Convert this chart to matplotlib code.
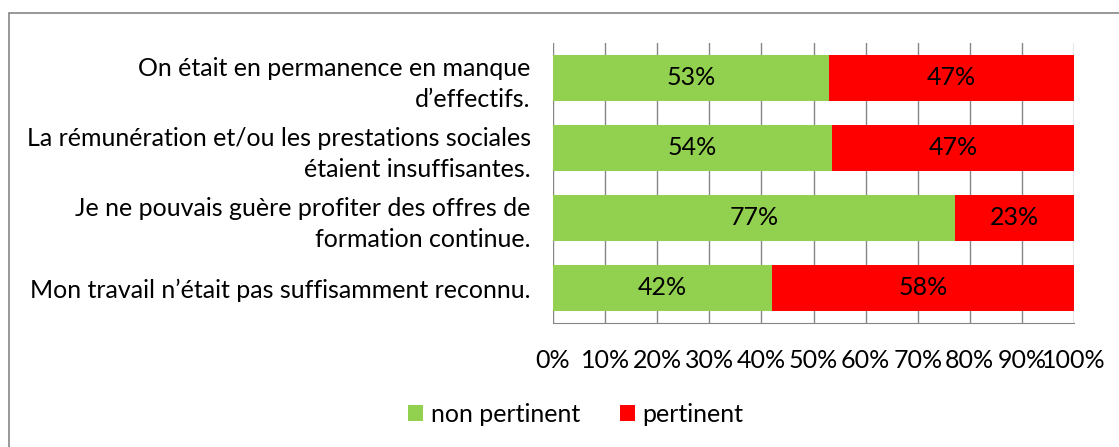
import matplotlib.pyplot as plt
from matplotlib.patches import Rectangle

plt.rcParams['font.family'] = ['Lato', 'DejaVu Sans']

categories = [
    "On était en permanence en manque\nd’effectifs.",
    "La rémunération et/ou les prestations sociales\nétaient insuffisantes.",
    "Je ne pouvais guère profiter des offres de\nformation continue.",
    "Mon travail n’était pas suffisamment reconnu.",
]
non_pertinent = [52.9, 53.5, 77.1, 42.1]
pertinent = [47.1, 46.5, 22.9, 57.9]
non_pertinent_labels = ["53%", "54%", "77%", "42%"]
pertinent_labels = ["47%", "47%", "23%", "58%"]
xticks = [0, 10, 20, 30, 40, 50, 60, 70, 80, 90, 100]

GREEN = '#92d050'
RED = '#ff0000'
W, H = 1119, 447
FS = 18

fig = plt.figure(figsize=(W / 100, H / 100), dpi=100)
# plot area in pixels: x 553..1074, y 42.7..323
ax = fig.add_axes([553 / W, 1 - 323 / H, (1074 - 553) / W, (323 - 42.7) / H])

y = list(range(len(categories)))[::-1]
ax.barh(y, non_pertinent, height=0.65, color=GREEN, zorder=3, label='non pertinent')
ax.barh(y, pertinent, left=non_pertinent, height=0.65, color=RED, zorder=3, label='pertinent')

for yi, a, b, la, lb in zip(y, non_pertinent, pertinent, non_pertinent_labels, pertinent_labels):
    ax.text(a / 2, yi, la, ha='center', va='center', fontsize=FS, zorder=4)
    ax.text(a + b / 2, yi, lb, ha='center', va='center', fontsize=FS, zorder=4)

ax.set_xlim(0, 100)
ax.set_ylim(-0.5, len(categories) - 0.5)
ax.set_xticks(xticks)
ax.set_xticklabels([f"{t}%" for t in xticks], fontsize=FS)
ax.set_yticks(y)
ax.set_yticklabels(categories, fontsize=FS, linespacing=1.45)
ax.tick_params(axis='y', length=0, pad=16)
ax.tick_params(axis='x', length=0, pad=19)
ax.grid(axis='x', color='#868686', linewidth=1, zorder=0)
for s in ['top', 'right', 'left']:
    ax.spines[s].set_visible(False)
ax.spines['bottom'].set_color('#868686')

ax.legend(loc='center', bbox_to_anchor=(576 / W, 1 - 414 / H), bbox_transform=fig.transFigure,
          ncol=2, frameon=False, fontsize=FS, handlelength=0.6, handleheight=0.6,
          handletextpad=0.3, columnspacing=1.6)

fig.patches.append(Rectangle((8.5 / W, -0.1), 1.2, 1 - 13 / H + 0.1, transform=fig.transFigure,
                             fill=False, edgecolor='#868686', linewidth=1.2))

fig.savefig('out.png', dpi=100)
